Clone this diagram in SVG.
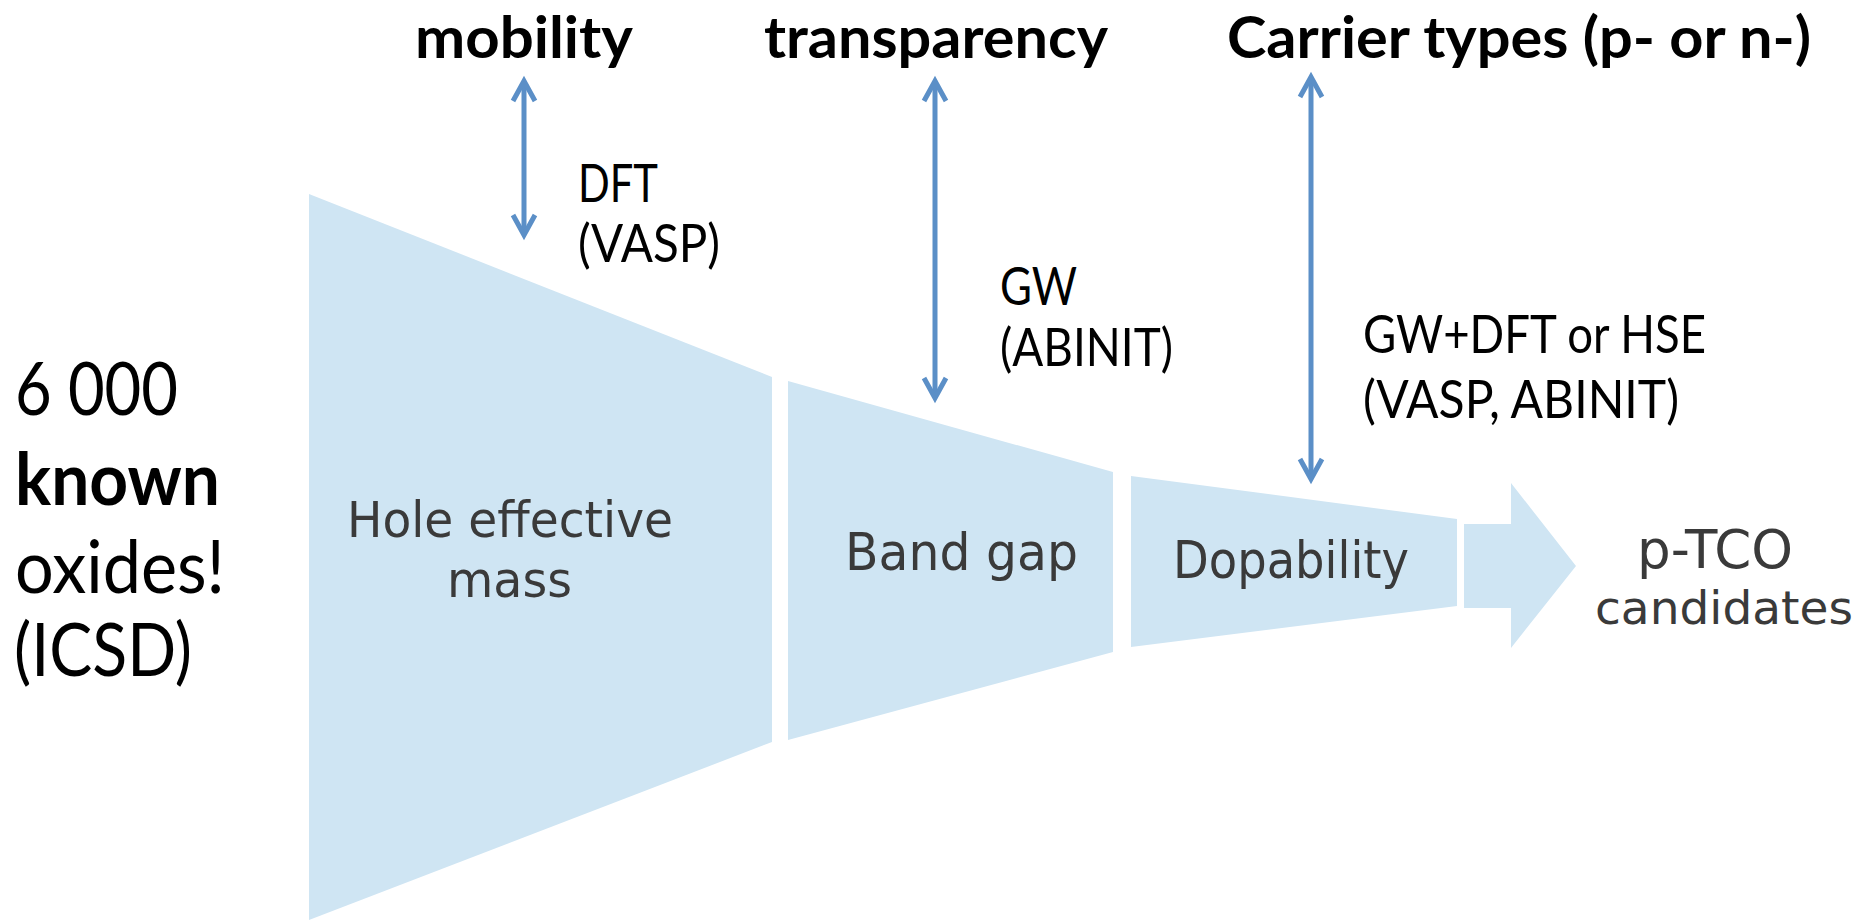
<svg xmlns="http://www.w3.org/2000/svg" width="1862" height="920" viewBox="0 0 1862 920">
<style>
.stage{fill:#cfe5f3;stroke:none}
.ft{font-family:"DejaVu Sans",Verdana,sans-serif;fill:#3a3a3a}
.cal{font-family:Lato,"Open Sans",sans-serif;fill:#000}
.b{font-weight:bold}
.conn{stroke:#5b8fc7;stroke-width:5;fill:none}
</style>
<defs>
<marker id="hd" markerUnits="userSpaceOnUse" markerWidth="40" markerHeight="40" viewBox="-30 -20 40 40" refX="0" refY="0" orient="auto-start-reverse">
<path d="M-20,-11 L0,0 L-20,11" fill="none" stroke="#5b8fc7" stroke-width="5" stroke-linejoin="miter"/>
</marker>
</defs>
<rect width="1862" height="920" fill="#fff"/>

<g id="stage-hole">
<polygon class="stage" points="309,194 772,377 772,742 309,920"/>
<text class="ft" font-size="50" x="347" y="537" textLength="326" lengthAdjust="spacingAndGlyphs">Hole effective</text>
<text class="ft" font-size="50" x="447" y="597" textLength="125" lengthAdjust="spacingAndGlyphs">mass</text>
</g>
<g id="stage-gap">
<polygon class="stage" points="788,381 1113,472 1113,652 788,740"/>
<text class="ft" font-size="51" x="845" y="570" textLength="233" lengthAdjust="spacingAndGlyphs">Band gap</text>
</g>
<g id="stage-dop">
<polygon class="stage" points="1131,476 1457,519 1457,606 1131,647"/>
<text class="ft" font-size="51" x="1173" y="578" textLength="236" lengthAdjust="spacingAndGlyphs">Dopability</text>
</g>
<g id="result">
<polygon class="stage" points="1464,524 1511,524 1511,483 1576,566 1511,648 1511,608 1464,608"/>
<text class="ft" font-size="54" x="1637" y="568" textLength="156" lengthAdjust="spacingAndGlyphs">p-TCO</text>
<text class="ft" font-size="46" x="1595" y="624" textLength="258" lengthAdjust="spacingAndGlyphs">candidates</text>
</g>

<g id="source">
<text class="cal" font-size="73" x="15" y="415" textLength="163" lengthAdjust="spacingAndGlyphs">6 000</text>
<text class="cal b" font-size="73" x="15" y="505" textLength="205" lengthAdjust="spacingAndGlyphs">known</text>
<text class="cal" font-size="73" x="15" y="593" textLength="210" lengthAdjust="spacingAndGlyphs">oxides!</text>
<text class="cal" font-size="73" x="14" y="676" textLength="178" lengthAdjust="spacingAndGlyphs">(ICSD)</text>
</g>

<g id="prop-mobility">
<text class="cal b" font-size="57" x="415" y="58" textLength="218" lengthAdjust="spacingAndGlyphs">mobility</text>
<text class="cal" font-size="52" x="578" y="202" textLength="80" lengthAdjust="spacingAndGlyphs">DFT</text>
<text class="cal" font-size="52" x="578" y="262" textLength="142" lengthAdjust="spacingAndGlyphs">(VASP)</text>
</g>
<g id="prop-transparency">
<text class="cal b" font-size="57" x="764" y="58" textLength="344" lengthAdjust="spacingAndGlyphs">transparency</text>
<text class="cal" font-size="52" x="1000" y="305" textLength="77" lengthAdjust="spacingAndGlyphs">GW</text>
<text class="cal" font-size="52" x="1000" y="366" textLength="173" lengthAdjust="spacingAndGlyphs">(ABINIT)</text>
</g>
<g id="prop-carrier">
<text class="cal b" font-size="57" x="1227" y="58" textLength="584" lengthAdjust="spacingAndGlyphs">Carrier types (p- or n-)</text>
<text class="cal" font-size="52" x="1363" y="353" textLength="343" lengthAdjust="spacingAndGlyphs">GW+DFT or HSE</text>
<text class="cal" font-size="52" x="1363" y="418" textLength="316" lengthAdjust="spacingAndGlyphs">(VASP, ABINIT)</text>
</g>

<g id="connectors">
<line class="conn" x1="524" y1="81" x2="524" y2="235" marker-start="url(#hd)" marker-end="url(#hd)"/>
<line class="conn" x1="935" y1="81" x2="935" y2="398" marker-start="url(#hd)" marker-end="url(#hd)"/>
<line class="conn" x1="1311" y1="77" x2="1311" y2="479" marker-start="url(#hd)" marker-end="url(#hd)"/>
</g>
</svg>
